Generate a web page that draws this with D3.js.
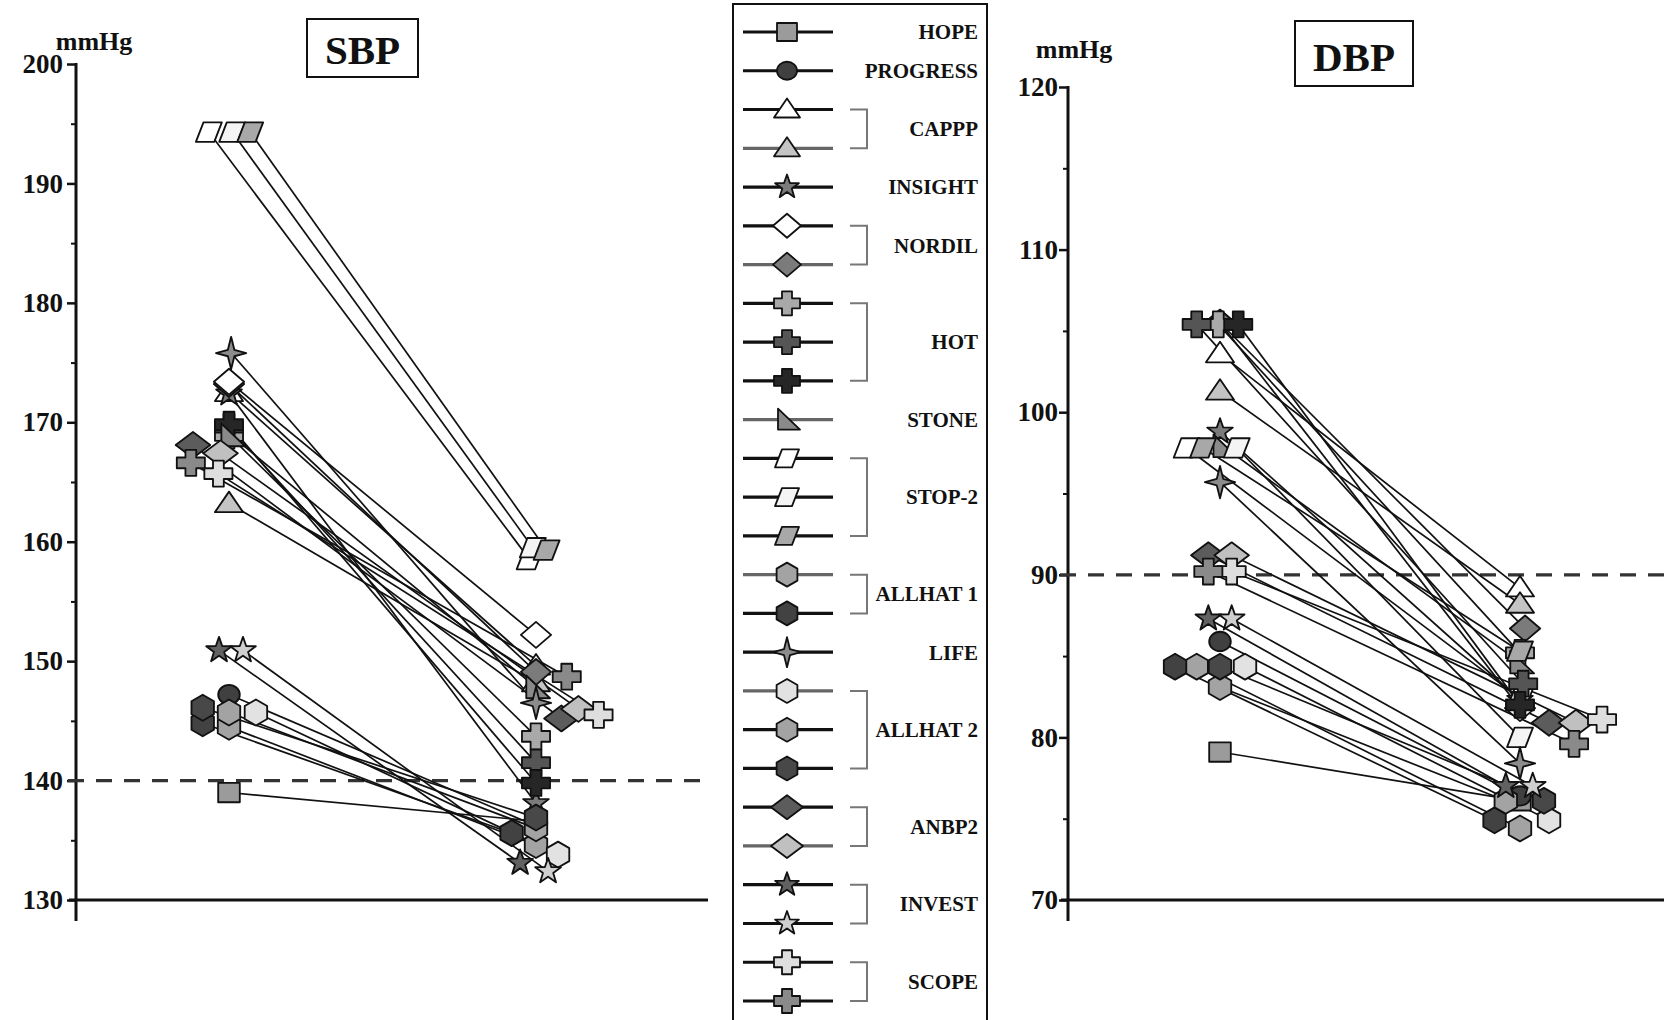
<!DOCTYPE html>
<html>
<head>
<meta charset="utf-8">
<script src="https://cdn.jsdelivr.net/npm/d3@7"></script>
<style>
body{margin:0;background:#fff}
svg{display:block}
text{font-family:"Liberation Serif","Times New Roman",serif;font-weight:bold;fill:#111}
</style>
</head>
<body>
<svg id="chart" width="1664" height="1020"></svg>
<script>
// one entry per treatment arm, same order as the legend
const studies = ["HOPE","PROGRESS","CAPPP","CAPPP","INSIGHT","NORDIL","NORDIL","HOT","HOT","HOT","STONE",
    "STOP-2","STOP-2","STOP-2","ALLHAT 1","ALLHAT 1","LIFE","ALLHAT 2","ALLHAT 2","ALLHAT 2",
    "ANBP2","ANBP2","INVEST","INVEST","SCOPE","SCOPE"];

const sbpBefore = [139.0,147.2,172.5,163.2,172.4,173.4,173.2,168.9,169.6,169.8,168.9,
    194.3,194.3,194.3,144.5,144.8,175.8,145.7,145.7,146.1,168.1,167.4,150.9,150.9,165.7,166.6];
const sbpAfter = [136.6,136.2,149.6,148.2,138.1,152.2,149.1,143.7,141.5,139.8,147.8,
    158.5,159.5,159.3,134.6,135.6,146.5,133.8,136.0,136.9,145.2,146.0,133.1,132.4,145.5,148.7];
const dbpBefore = [79.1,85.9,103.6,101.3,98.8,105.5,105.5,105.4,105.4,105.4,97.9,
    97.8,97.8,97.8,84.35,84.35,95.7,84.35,83.1,84.35,91.2,91.2,87.3,87.3,90.2,90.2];
const dbpAfter = [76.1,76.4,89.2,88.2,82.3,81.8,86.7,85.2,83.3,82.0,84.6,
    82.4,80.0,85.3,74.4,74.9,78.4,74.9,76.1,76.1,80.9,80.9,77.0,77.0,81.1,79.6];

// side-by-side dodge slot of each marker where points pile up (in marker widths)
const sbpDodgeBefore = [0,0,0,0,0,0,0,0,0,0,0.1,-0.95,0.15,1.0,0,-1.24,0.1,1.27,0,-1.24,-1.7,-0.4,-0.47,0.66,-0.5,-1.8];
const sbpDodgeAfter = [0,0,0,0,0,0,0,0,0,0,0,-0.3,-0.15,0.5,0,-1.15,0,1.04,0,0,1.2,2.0,-0.75,0.57,2.95,1.45];
const dbpDodgeBefore = [0,0,0,0,0,0,0,-0.08,-1.1,0.86,0.15,-1.57,0.79,-0.8,-1.1,-2.12,0,1.18,0,0,-0.55,0.55,-0.55,0.55,0.55,-0.55];
const dbpDodgeAfter = [0,0,0,0,0,0,0.24,0,0.15,0,0,0,0,0,0,-1.2,0,1.37,-0.67,1.13,1.37,2.64,-0.67,0.6,3.87,2.55];

const sbpTicks = [130,140,150,160,170,180,190,200];
const sbpMinor = [135,145,155,165,175,185,195];
const dbpTicks = [70,80,90,100,110,120];
const dbpMinor = [75,85,95,105,115];
const sbpTarget = 140;
const dbpTarget = 90;

// styles
const markerShape = ["square","circle","triangle","triangle","star5","diamond","diamond","cross","cross","cross","wedge",
    "para","para","para","hexagon","hexagon","star4","hexagon","hexagon","hexagon",
    "wideDiamond","wideDiamond","star5","star5","cross","cross"];
const markerFill = ["#9b9b9b","#404040","#ffffff","#c4c4c4","#7b7b7b","#ffffff","#7b7b7b","#a9a9a9","#555555","#262626","#8a8a8a",
    "#ffffff","#f4f4f4","#a8a8a8","#a3a3a3","#424242","#8c8c8c","#e2e2e2","#a3a3a3","#484848",
    "#5c5c5c","#c0c0c0","#626262","#cfcfcf","#dedede","#8a8a8a"];
const legendLineColor = ["#111","#111","#111","#666","#111","#111","#666","#111","#111","#111","#666",
    "#111","#111","#111","#666","#111","#111","#666","#111","#111","#111","#666","#111","#111","#111","#111"];

const INK = "#111";
const DODGE_W = 21.2;
const MARK_SCALE = 1.08;

var svg = d3.select("#chart");

function starPath(n, rOut, rIn){
    var pts = [];
    for(var k = 0; k < n*2; k++){
        var r = (k%2 == 0) ? rOut : rIn;
        var a = -Math.PI/2 + k*Math.PI/n;
        pts.push([r*Math.cos(a), r*Math.sin(a)]);
    }
    return "M" + pts.map(p => p[0].toFixed(2) + "," + p[1].toFixed(2)).join("L") + "Z";
}

function shapePath(kind){
    switch(kind){
        case "square": return "M-10,-9H10V9H-10Z";
        case "circle": return "M-10,0A10,9 0 1,0 10,0A10,9 0 1,0 -10,0Z";
        case "triangle": return "M0,-11L13,8L-13,8Z";
        case "star5": return starPath(5, 12.5, 5);
        case "star4": return "M0,-15L3,-3L14,0L3,3L0,15L-3,3L-14,0L-3,-3Z";
        case "diamond": return "M0,-12L14,0L0,12L-14,0Z";
        case "wideDiamond": return "M0,-12L16,0L0,12L-16,0Z";
        case "cross": return "M-5,-12H5V-5H13V5H5V12H-5V5H-13V-5H-5Z";
        case "wedge": return "M-9,-11L13,10L-9,10Z";
        case "para": return "M-5,-9H12L5,9H-12Z";
        case "hexagon": return "M0,-12L10.4,-6V6L0,12L-10.4,6V-6Z";
    }
}

function drawPanel(cfg){
    var y = d3.scaleLinear().domain([cfg.ticks[0], cfg.ticks[cfg.ticks.length-1]]).range([900, cfg.top]);
    var x = d3.scalePoint().domain(["before","after"]).range([cfg.xBefore, cfg.xAfter]);
    var dodge = d3.scaleLinear().domain([0,1]).range([0, DODGE_W]);
    var g = svg.append("g");

    // minor ticks
    g.append("g")
        .attr("transform", `translate(${cfg.axisX},0)`)
        .call(d3.axisLeft(y).tickValues(cfg.minor).tickSize(5).tickFormat(""))
        .call(a => a.select(".domain").remove())
        .call(a => a.selectAll(".tick line").attr("stroke", INK).attr("stroke-width", 2));

    g.append("g")
        .attr("transform", `translate(${cfg.axisX},0)`)
        .call(d3.axisLeft(y).tickValues(cfg.ticks).tickSize(9).tickPadding(cfg.pad).tickFormat(d3.format("d")))
        .call(a => a.select(".domain").remove())
        .call(a => a.selectAll(".tick line").attr("stroke", INK).attr("stroke-width", 2.5))
        .call(a => a.selectAll(".tick text").attr("fill", INK).attr("font-size", 27));

    // axes lines
    g.append("line").attr("x1", cfg.axisX).attr("x2", cfg.axisX)
        .attr("y1", cfg.top - 1).attr("y2", 921)
        .attr("stroke", INK).attr("stroke-width", 3);
    g.append("line").attr("x1", cfg.axisX - 7).attr("x2", cfg.xEnd)
        .attr("y1", y(cfg.ticks[0])).attr("y2", y(cfg.ticks[0]))
        .attr("stroke", INK).attr("stroke-width", 3);

    // target line
    g.append("line").attr("x1", cfg.axisX - 8).attr("x2", cfg.xEnd)
        .attr("y1", y(cfg.target)).attr("y2", y(cfg.target))
        .attr("stroke", "#333").attr("stroke-width", 3.2)
        .attr("stroke-dasharray", "16,12");

    g.append("text").attr("x", cfg.unitX).attr("y", cfg.unitY)
        .attr("text-anchor", "middle").attr("font-size", 26).text("mmHg");

    g.append("rect").attr("x", cfg.box[0]).attr("y", cfg.box[1])
        .attr("width", cfg.box[2]).attr("height", cfg.box[3])
        .attr("fill", "#fff").attr("stroke", INK).attr("stroke-width", 2);
    g.append("text").attr("x", cfg.box[0] + cfg.box[2]/2).attr("y", cfg.box[1] + cfg.box[3]*0.77)
        .attr("text-anchor", "middle").attr("font-size", 41).text(cfg.title);

    var rows = studies.map((s,i) => ({
        i: i,
        x0: x("before") + dodge(cfg.dodgeBefore[i]), y0: y(cfg.before[i]),
        x1: x("after") + dodge(cfg.dodgeAfter[i]), y1: y(cfg.after[i])
    }));

    g.selectAll(".link")
        .data(rows)
        .enter()
        .append("line")
        .attr("class", "link")
        .attr("x1", d => d.x0).attr("y1", d => d.y0)
        .attr("x2", d => d.x1).attr("y2", d => d.y1)
        .attr("stroke", INK).attr("stroke-width", 1.7);

    // marks listed in cfg.onTop are drawn last
    var ordered = d3.sort(rows, d => cfg.onTop.includes(d.i) ? 1 : 0);
    var pts = [];
    ordered.forEach(d => pts.push({i: d.i, x: d.x0, y: d.y0}));
    ordered.forEach(d => pts.push({i: d.i, x: d.x1, y: d.y1}));
    g.selectAll(".mark")
        .data(pts)
        .enter()
        .append("path")
        .attr("class", "mark")
        .attr("transform", d => `translate(${d.x},${d.y}) scale(${MARK_SCALE})`)
        .attr("d", d => shapePath(markerShape[d.i]))
        .attr("fill", d => markerFill[d.i])
        .attr("stroke", INK).attr("stroke-width", 1.7)
        .attr("stroke-linejoin", "round");
}

function drawLegend(){
    var rowY = d3.scaleLinear().domain([0, studies.length - 1]).range([32, 1001]);
    var lg = svg.append("g");
    lg.append("rect").attr("x", 733).attr("y", 4).attr("width", 254).attr("height", 1040)
        .attr("fill", "#fff").attr("stroke", INK).attr("stroke-width", 2);

    var items = lg.selectAll(".item")
        .data(studies.map((s,i) => i))
        .enter()
        .append("g")
        .attr("transform", i => `translate(787,${rowY(i)})`);
    items.append("line").attr("x1", -44).attr("x2", 46)
        .attr("stroke", i => legendLineColor[i]).attr("stroke-width", 3.2);
    items.append("path")
        .attr("d", i => shapePath(markerShape[i]))
        .attr("fill", i => markerFill[i])
        .attr("stroke", INK).attr("stroke-width", 1.8)
        .attr("stroke-linejoin", "round");

    var groups = d3.groups(studies.map((s,i) => ({s, i})), d => d.s);
    groups.forEach(([name, arr]) => {
        var top = rowY(arr[0].i), bot = rowY(arr[arr.length-1].i);
        lg.append("text").attr("x", 978).attr("y", (top + bot)/2)
            .attr("dy", "0.35em").attr("text-anchor", "end")
            .attr("font-size", 21).text(name);
        if(arr.length > 1){
            lg.append("path")
                .attr("d", `M850,${top}H867V${bot}H850`)
                .attr("fill", "none").attr("stroke", "#777").attr("stroke-width", 2);
        }
    });
}

drawPanel({
    title: "SBP", ticks: sbpTicks, minor: sbpMinor, target: sbpTarget,
    before: sbpBefore, after: sbpAfter, dodgeBefore: sbpDodgeBefore, dodgeAfter: sbpDodgeAfter,
    top: 64, axisX: 76, xEnd: 708, xBefore: 229, xAfter: 536, pad: 4,
    unitX: 94, unitY: 50, box: [307, 19, 111, 58], onTop: [5]
});
drawPanel({
    title: "DBP", ticks: dbpTicks, minor: dbpMinor, target: dbpTarget,
    before: dbpBefore, after: dbpAfter, dodgeBefore: dbpDodgeBefore, dodgeAfter: dbpDodgeAfter,
    top: 87, axisX: 1068, xEnd: 1664, xBefore: 1220, xAfter: 1520, pad: 1,
    unitX: 1074, unitY: 58, box: [1295, 21, 118, 65], onTop: [8, 9]
});
drawLegend();
</script>
</body>
</html>
